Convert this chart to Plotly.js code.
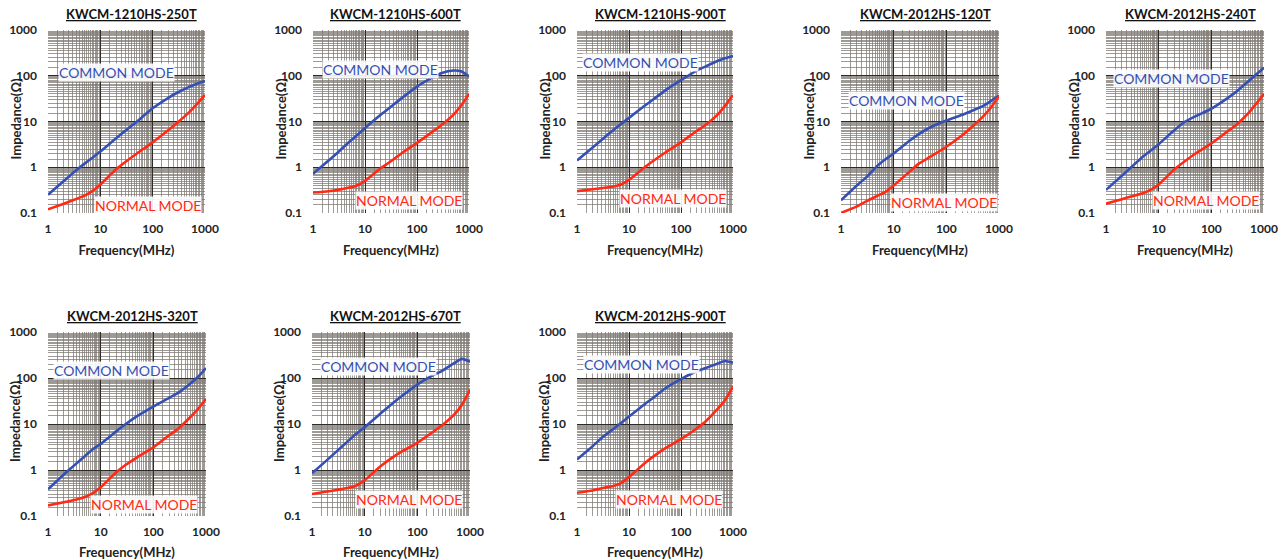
<!DOCTYPE html>
<html>
<head>
<meta charset="utf-8">
<script src="https://cdn.plot.ly/plotly-3.0.1.min.js"></script>
<style>html,body{margin:0;padding:0;background:#fff;}#chart{width:1288px;height:560px;}</style>
</head>
<body>
<div id="chart"></div>
<script>
// ---- data ----
const partNames = ["KWCM-1210HS-250T","KWCM-1210HS-600T","KWCM-1210HS-900T","KWCM-2012HS-120T","KWCM-2012HS-240T","KWCM-2012HS-320T","KWCM-2012HS-670T","KWCM-2012HS-900T"];
const freqMHz = [1,2,3,5,7,10,20,30,50,100,200,300,500,700,1000];

const common_1210_250T = [0.25,0.5,0.75,1.2,1.6,2.2,4.3,6.3,10,19.5,33,43,57,67,77];
const normal_1210_250T = [0.12,0.16,0.19,0.24,0.3,0.42,0.9,1.3,2.0,3.5,6.5,9.5,16,24,38];

const common_1210_600T = [0.72,1.4,2.1,3.6,5.0,7.2,14,20,32,58,92,115,130,125,97];
const normal_1210_600T = [0.28,0.3,0.32,0.36,0.4,0.5,0.95,1.3,2.0,3.4,6.0,8.5,14,22,40];

const common_1210_900T = [1.4,2.7,4.0,6.5,8.8,12,22,31,48,80,130,160,210,240,270];
const normal_1210_900T = [0.3,0.33,0.35,0.38,0.42,0.53,1.0,1.4,2.1,3.5,6.2,8.5,14,22,38];

const common_2012_120T = [0.19,0.4,0.6,1.1,1.5,2.0,3.8,5.3,7.5,10.5,14,17,22,28,37];
const normal_2012_120T = [0.1,0.14,0.18,0.24,0.29,0.4,0.8,1.2,1.7,2.8,5,7.5,13,20,36];

const common_2012_240T = [0.32,0.65,1.0,1.7,2.3,3.2,6.5,9.5,13,19,32,45,75,105,150];
const normal_2012_240T = [0.16,0.2,0.23,0.27,0.32,0.42,0.9,1.3,2.0,3.3,6.0,8.5,15,24,40];

const common_2012_320T = [0.38,0.8,1.2,2.0,2.8,3.7,7,10,15,24,37,48,75,105,165];
const normal_2012_320T = [0.17,0.2,0.22,0.26,0.31,0.42,0.9,1.3,1.9,3.1,5.7,8,14,21,35];

const common_2012_670T = [0.85,1.7,2.6,4.4,6.2,8.5,17,25,40,72,115,145,210,260,225];
const normal_2012_670T = [0.3,0.34,0.37,0.41,0.46,0.6,1.2,1.7,2.5,3.9,6.8,9.5,16,26,55];

const common_2012_900T = [1.7,3.3,5,7.8,10.5,14.5,27,38,60,95,140,165,205,235,215];
const normal_2012_900T = [0.32,0.36,0.4,0.45,0.52,0.7,1.4,2.0,3.0,4.7,8,11.5,21,33,65];

const xTickVals = [1,10,100,1000];
const xTickText = ["1","10","100","1000"];
const yTickVals = [0.1,1,10,100,1000];
const yTickText = ["0.1","1","10","100","1000"];

const commonSeries = [common_1210_250T,common_1210_600T,common_1210_900T,common_2012_120T,common_2012_240T,common_2012_320T,common_2012_670T,common_2012_900T];
const normalSeries = [normal_1210_250T,normal_1210_600T,normal_1210_900T,normal_2012_120T,normal_2012_240T,normal_2012_320T,normal_2012_670T,normal_2012_900T];

// ---- layout config (pixel boxes of plot areas) ----
const W = 1288, H = 560;
const boxes = [
  [48,205,30,213],[313,469,30,213],[577,733,30,213],[841,999,30,213],[1106,1264,30,213],
  [48,206,332,516],[312,470,332,516],[577,733,332,516]
];
// label positions: [common logx-left, common logy, normal logx-right, normal logy]
const labelPos = [
  [0.19,2.08,2.94,-0.83],[0.17,2.13,2.88,-0.72],[0.10,2.30,2.88,-0.69],[0.13,1.47,2.98,-0.76],
  [0.13,1.93,2.92,-0.72],[0.10,2.17,2.84,-0.74],[0.15,2.24,2.87,-0.65],[0.12,2.30,2.81,-0.65]
];

const FONT = "Lato, 'Open Sans', sans-serif";
const BLUE = "#3550b4", RED = "#ff2a14";

// minor grid values: half steps inside each decade
function minorVals(lo, hi){
  const v = [];
  for (let d = lo; d < hi; d++){
    for (let m = 1.5; m < 10; m += 0.5){ v.push(m*Math.pow(10,d)); }
  }
  return v;
}

const data = [];
const layout = {
  width: W, height: H,
  margin: {l:0,r:0,t:0,b:0},
  paper_bgcolor: "#fff", plot_bgcolor: "#fff",
  showlegend: false,
  font: {family: FONT, color: "#222"},
  annotations: []
};

boxes.forEach((b, i) => {
  const n = i + 1;
  const xa = "x" + (n === 1 ? "" : n), ya = "y" + (n === 1 ? "" : n);
  const xk = "xaxis" + (n === 1 ? "" : n), yk = "yaxis" + (n === 1 ? "" : n);
  data.push({x: freqMHz, y: commonSeries[i], xaxis: xa, yaxis: ya, type: "scatter", mode: "lines",
    line: {color: BLUE, width: 2.6, shape: "spline", smoothing: 0.6}, name: "COMMON MODE", hoverinfo: "x+y"});
  data.push({x: freqMHz, y: normalSeries[i], xaxis: xa, yaxis: ya, type: "scatter", mode: "lines",
    line: {color: RED, width: 2.6, shape: "spline", smoothing: 0.6}, name: "NORMAL MODE", hoverinfo: "x+y"});

  layout[xk] = {
    domain: [b[0]/W, b[1]/W], anchor: ya, type: "log", range: [0, 3],
    tickmode: "array", tickvals: xTickVals, ticktext: xTickText,
    tickfont: {family: FONT, size: 12, color: "#222", weight: "bold"},
    ticks: "", showline: false, zeroline: false,
    showgrid: true, gridcolor: "#2e2a28", gridwidth: 1,
    minor: {tickmode: "array", tickvals: minorVals(0,3), showgrid: true, gridcolor: "#7d7873", gridwidth: 0.75, ticks: ""},
    ticklabelstandoff: 7,
    title: {text: "<b>Frequency(MHz)</b>", font: {family: FONT, size: 13, color: "#222"}, standoff: 10},
    automargin: false, fixedrange: true
  };
  layout[yk] = {
    domain: [1 - b[3]/H, 1 - b[2]/H], anchor: xa, type: "log", range: [-1, 3],
    tickmode: "array", tickvals: yTickVals, ticktext: yTickText,
    tickfont: {family: FONT, size: 12, color: "#222", weight: "bold"},
    ticks: "", showline: false, zeroline: false,
    showgrid: true, gridcolor: "#2e2a28", gridwidth: 1,
    minor: {tickmode: "array", tickvals: minorVals(-1,3), showgrid: true, gridcolor: "#7d7873", gridwidth: 0.75, ticks: ""},
    ticklabelstandoff: 10,
    automargin: false, fixedrange: true
  };

  const cx = (b[0] + b[1]) / 2 / W;
  // part title (underlined, bold)
  layout.annotations.push({xref: "paper", yref: "paper", x: cx + 5/W, y: 1 - (b[2] - 16)/H,
    text: "<b><u>" + partNames[i] + "</u></b>", showarrow: false, xanchor: "center", yanchor: "middle",
    font: {family: FONT, size: 13, color: "#111"}});
  // y-axis title
  layout.annotations.push({xref: "paper", yref: "paper", x: (b[0] - 33)/W, y: 1 - ((b[2] + b[3]) / 2 - 3)/H,
    text: "<b>Impedance(Ω)</b>", textangle: -90, showarrow: false, xanchor: "center", yanchor: "middle",
    font: {family: FONT, size: 13, color: "#222"}});
  // mode labels
  const p = labelPos[i];
  layout.annotations.push({xref: xa, yref: ya, x: p[0], y: p[1], text: "COMMON MODE", showarrow: false,
    xanchor: "left", yanchor: "middle", bgcolor: "rgba(255,255,255,0.9)", borderpad: 0,
    font: {family: FONT, size: 14, color: BLUE}});
  layout.annotations.push({xref: xa, yref: ya, x: p[2], y: p[3], text: "NORMAL MODE", showarrow: false,
    xanchor: "right", yanchor: "middle", bgcolor: "rgba(255,255,255,0.9)", borderpad: 0,
    font: {family: FONT, size: 14, color: RED}});
});

Plotly.newPlot("chart", data, layout, {staticPlot: true, displayModeBar: false});
</script>
</body>
</html>
